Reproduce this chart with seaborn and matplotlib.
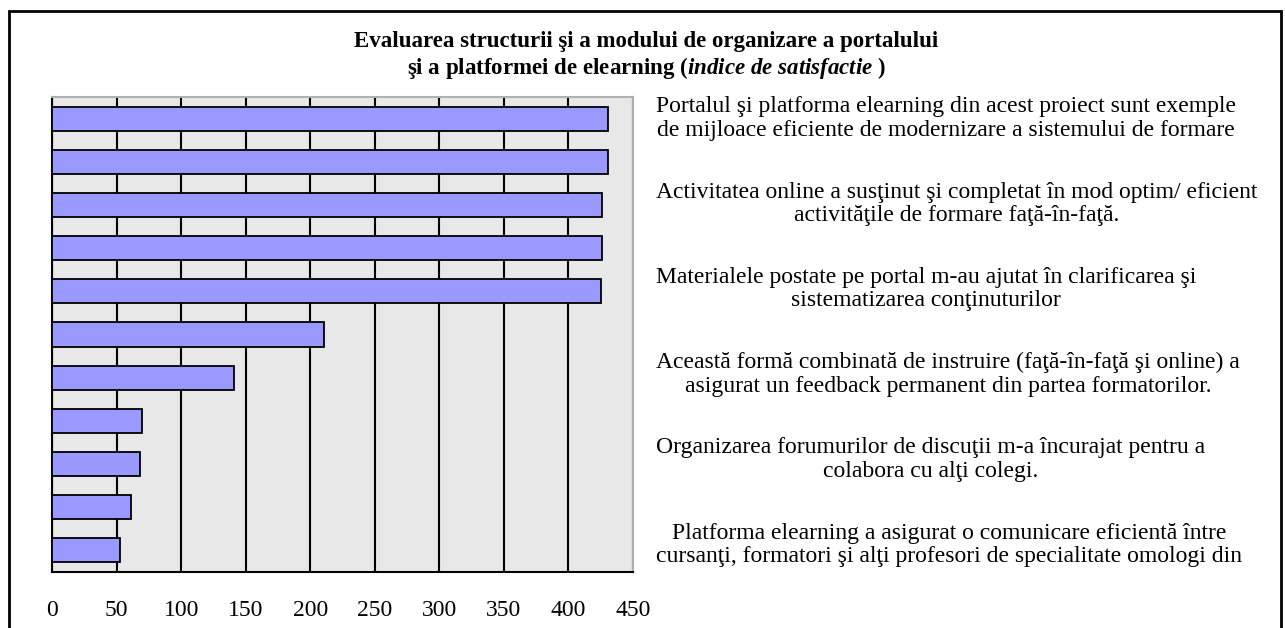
import numpy as np
import matplotlib
matplotlib.use("Agg")
import matplotlib.pyplot as plt
import seaborn as sns
from matplotlib.patches import Rectangle

# date (de sus in jos)
items = ["I01", "I02", "I03", "I04", "I05", "I06", "I07", "I08", "I09", "I10", "I11"]
scores = [431, 431, 426, 426, 425, 211, 141, 70, 68, 61, 53]
xticks = [0, 50, 100, 150, 200, 250, 300, 350, 400, 450]

title_1 = "Evaluarea structurii şi a modului de organizare a portalului"
title_2 = r"şi a platformei de elearning ($\mathit{indice\ de\ satisfactie}$ )"

side_labels = [
    "Portalul şi platforma elearning din acest proiect sunt exemple\n"
    "de mijloace eficiente de modernizare a sistemului de formare",
    "Activitatea online a susţinut şi completat în mod optim/ eficient\n"
    "activităţile de formare faţă-în-faţă.",
    "Materialele postate pe portal m-au ajutat în clarificarea şi\n"
    "sistematizarea conţinuturilor",
    "Această formă combinată de instruire (faţă-în-faţă şi online) a\n"
    "asigurat un feedback permanent din partea formatorilor.",
    "Organizarea forumurilor de discuţii m-a încurajat pentru a\n"
    "colabora cu alţi colegi.",
    "Platforma elearning a asigurat o comunicare eficientă între\n"
    "cursanţi, formatori şi alţi profesori de specialitate omologi din",
]

BAR = "#9999ff"
SERIF = ["Liberation Serif", "DejaVu Serif"]

sns.set_style("white")
plt.rcParams["font.family"] = SERIF
plt.rcParams["text.color"] = "black"
plt.rcParams["xtick.color"] = "black"
plt.rcParams["ytick.color"] = "black"
plt.rcParams["mathtext.fontset"] = "custom"
plt.rcParams["mathtext.it"] = "Liberation Serif:italic:bold"
plt.rcParams["mathtext.rm"] = "Liberation Serif:bold"

W, H = 1285, 628
fig = plt.figure(figsize=(W / 100, H / 100), dpi=100)
fig.patch.set_facecolor("white")

# zona graficului (pixeli -> fractii)
x0, x1, y0, y1 = 52, 633, 97, 572
ax = fig.add_axes([x0 / W, 1 - y1 / H, (x1 - x0) / W, (y1 - y0) / H])
ax.set_facecolor("#e8e8e8")

sns.barplot(x=scores, y=items, orient="h", color=BAR, edgecolor="black",
            linewidth=1.3, width=0.56, saturation=1, ax=ax, zorder=3)

ax.set_xlim(0, 450)
ax.set_ylim(10.5, -0.5)
ax.set_xticks(xticks)
ax.set_xticklabels([str(t) for t in xticks], fontsize=17)
ax.set_yticks(np.arange(-0.5, len(items), 1))
ax.set_yticklabels([])
ax.set_xlabel("")
ax.set_ylabel("")
ax.tick_params(axis="x", direction="out", length=6, width=1.3, pad=14)
ax.tick_params(axis="y", direction="out", length=6, width=1.3)
ax.xaxis.grid(True, color="black", linewidth=1.5, zorder=1)
ax.set_axisbelow(True)

for side in ["left", "bottom"]:
    ax.spines[side].set_color("black")
    ax.spines[side].set_linewidth(1.5)
for side in ["top", "right"]:
    ax.spines[side].set_color("#b0b0b0")
    ax.spines[side].set_linewidth(1.5)

# titlu pe doua randuri
fig.text(0.503, 1 - 42 / H, title_1, ha="center", va="center",
         fontsize=16.5, fontweight="bold")
fig.text(0.503, 1 - 68 / H, title_2, ha="center", va="center",
         fontsize=16.5, fontweight="bold")

# textele din dreapta
for i, lab in enumerate(side_labels):
    yc = 118.5 + 85.3 * i
    fig.text(656 / W, 1 - yc / H, lab, ha="left", va="center",
             multialignment="center", fontsize=17, linespacing=1.15)

# chenarul exterior
fig.patches.append(Rectangle((9 / W, -0.05), (1281 - 9) / W, 1.05 - 11 / H,
                             transform=fig.transFigure, fill=False,
                             edgecolor="black", linewidth=2))

fig.savefig("out.png", dpi=100)
